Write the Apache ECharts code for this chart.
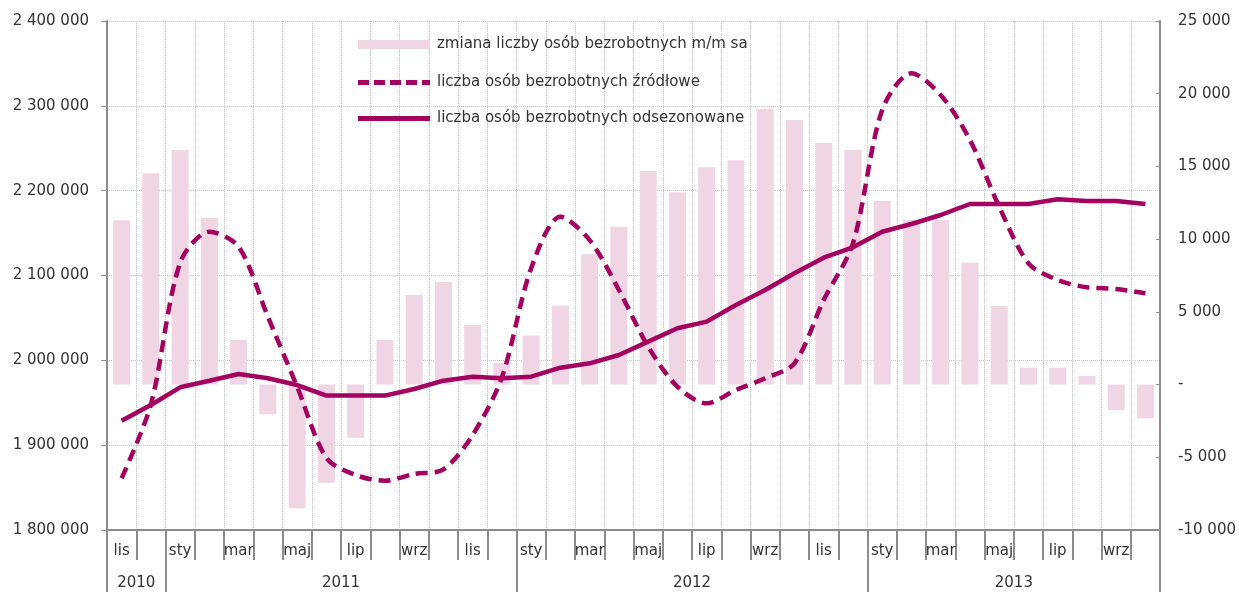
<!DOCTYPE html>
<html>
<head>
<meta charset="utf-8">
<script src="https://cdn.jsdelivr.net/npm/echarts@6/dist/echarts.min.js"></script>
<style>
  html, body { margin:0; padding:0; background:#fff; }
  #chart { width:1239px; height:592px; }
</style>
</head>
<body>
<div id="chart"></div>
<script>
// --- miesiące: lis 2010 – paź 2013 ---
const months = [
  'lis','gru',
  'sty','lut','mar','kwi','maj','cze','lip','sie','wrz','paź','lis','gru',
  'sty','lut','mar','kwi','maj','cze','lip','sie','wrz','paź','lis','gru',
  'sty','lut','mar','kwi','maj','cze','lip','sie','wrz','paź'
]
const yearLabels = ['2010', '2011', '2012', '2013']
const yearMonths = [2, 12, 12, 10]

// zmiana m/m sa (prawa oś)
const changeMoM = [
  11300, 14530,
  16130, 11460, 3070, -2040, -8510, -6750, -3650, 3070, 6160, 7060, 4100, 1500,
  3370, 5430, 8960, 10860, 14680, 13220, 14940, 15420, 18950, 18200, 16610, 16130,
  12630, 11320, 11320, 8380, 5410, 1160, 1160, 590, -1750, -2320
]
// liczba bezrobotnych źródłowe (lewa oś)
const rawCount = [
  1860950, 1948000,
  2115000, 2151600, 2133900, 2051400, 1968900, 1884900, 1864800, 1858100, 1866000, 1871500, 1912000, 1980000,
  2108500, 2169300, 2141800, 2082900, 2016100, 1968900, 1949300, 1965000, 1978800, 1996500, 2071100, 2137900,
  2295100, 2338400, 2312800, 2259700, 2181100, 2114400, 2094700, 2086100, 2084100, 2079100
]
// liczba bezrobotnych odsezonowane (lewa oś)
const saCount = [
  1928800, 1947400,
  1968200, 1976000, 1983900, 1978800, 1970900, 1958400, 1958400, 1958400, 1966200, 1976000, 1980700, 1978800,
  1980700, 1991300, 1996500, 2006300, 2022000, 2037800, 2045600, 2065200, 2082900, 2102600, 2121000, 2133200,
  2151600, 2160700, 2171300, 2184300, 2184300, 2184300, 2189800, 2187800, 2187800, 2184300
]

const names = [
  'zmiana liczby osób bezrobotnych m/m sa',
  'liczba osób bezrobotnych źródłowe',
  'liczba osób bezrobotnych odsezonowane'
]

const LINE = '#a3005f'
const BAR = '#f0d5e4'
const GRID = '#c6c6c6'
const AXIS = '#8c8c8c'
const FONT = 'DejaVu Sans'
const FS = 15

// ikony legendy (kreski rysowane jako prostokąty)
const ICON_DASH = 'path://M0,0h11v5h-11z M16,0h11v5h-11z M32,0h11v5h-11z M48,0h11v5h-11z M64,0h8v5h-8z'
const ICON_SOLID = 'path://M0,0h72v5h-72z'

// oś lat: punkty na granicach miesięcy (37 punktów)
const yearTicks = [0]
const yearMid = {}
let acc = 0
yearMonths.forEach((n, i) => {
  yearMid[acc + n / 2] = yearLabels[i]
  acc += n
  yearTicks.push(acc)
})
const yearAxisData = Array.from({ length: months.length + 1 }, () => '')
Object.keys(yearMid).forEach(k => { yearAxisData[Math.round(+k)] = yearMid[k] })

const fmt = v => String(v).replace(/\B(?=(\d{3})+(?!\d))/g, ' ')

const legendBase = {
  left: 353,
  itemWidth: 72,
  textStyle: { fontFamily: FONT, fontSize: FS, color: '#333', padding: [0, 0, 0, 2] }
}

const chart = echarts.init(document.getElementById('chart'))
chart.setOption({
  animation: false,
  textStyle: { fontFamily: FONT },
  grid: { left: 107, right: 77, top: 21, bottom: 62, containLabel: false },
  legend: [
    { ...legendBase, top: 32, itemHeight: 9, data: [{ name: names[0], icon: 'rect' }] },
    { ...legendBase, top: 70, itemHeight: 5, data: [{ name: names[1], icon: ICON_DASH }] },
    { ...legendBase, top: 106, itemHeight: 5, data: [{ name: names[2], icon: ICON_SOLID }] }
  ],
  xAxis: [
    {
      type: 'category',
      data: months,
      boundaryGap: true,
      axisLine: { onZero: false, lineStyle: { color: AXIS, width: 2 } },
      axisTick: { show: true, interval: 0, length: 30, lineStyle: { color: AXIS, width: 2 } },
      axisLabel: { interval: 1, color: '#333', fontSize: FS, margin: 14, fontFamily: FONT },
      splitLine: { show: true, interval: 0, lineStyle: { color: GRID, type: 'dotted', width: 1 } }
    },
    {
      type: 'category',
      data: yearAxisData,
      boundaryGap: false,
      position: 'bottom',
      axisLine: { show: false, onZero: false },
      axisTick: {
        show: true,
        length: 62,
        interval: (i) => yearTicks.includes(i),
        lineStyle: { color: AXIS, width: 2 }
      },
      axisLabel: {
        interval: (i, v) => v !== '',
        color: '#333', fontSize: FS, margin: 46, fontFamily: FONT
      },
      splitLine: { show: false }
    }
  ],
  yAxis: [
    {
      type: 'value',
      min: 1800000, max: 2400000, interval: 100000,
      axisLine: { show: true, lineStyle: { color: AXIS, width: 2 } },
      axisTick: { show: true, length: 6, lineStyle: { color: AXIS, width: 1 } },
      axisLabel: { formatter: fmt, color: '#333', fontSize: FS, margin: 18, fontFamily: FONT },
      splitLine: { show: true, lineStyle: { color: GRID, type: 'dotted', width: 1 } }
    },
    {
      type: 'value',
      min: -10000, max: 25000, interval: 5000,
      position: 'right',
      axisLine: { show: true, lineStyle: { color: AXIS, width: 2 } },
      axisTick: { show: true, inside: true, length: 4, lineStyle: { color: AXIS, width: 1 } },
      axisLabel: {
        formatter: v => v === 0 ? '-' : fmt(v),
        color: '#333', fontSize: FS, margin: 18, fontFamily: FONT
      },
      splitLine: { show: false }
    }
  ],
  series: [
    {
      name: names[0],
      type: 'bar',
      xAxisIndex: 0,
      yAxisIndex: 1,
      data: changeMoM,
      barWidth: 17,
      itemStyle: { color: BAR }
    },
    {
      name: names[1],
      type: 'line',
      xAxisIndex: 0,
      yAxisIndex: 0,
      data: rawCount,
      smooth: 0.3,
      symbol: 'none',
      lineStyle: { color: LINE, width: 4.5, type: [12, 7], dashOffset: 0, cap: 'butt' },
      itemStyle: { color: LINE }
    },
    {
      name: names[2],
      type: 'line',
      xAxisIndex: 0,
      yAxisIndex: 0,
      data: saCount,
      symbol: 'none',
      lineStyle: { color: LINE, width: 4.5 },
      itemStyle: { color: LINE }
    }
  ]
})
</script>
</body>
</html>
